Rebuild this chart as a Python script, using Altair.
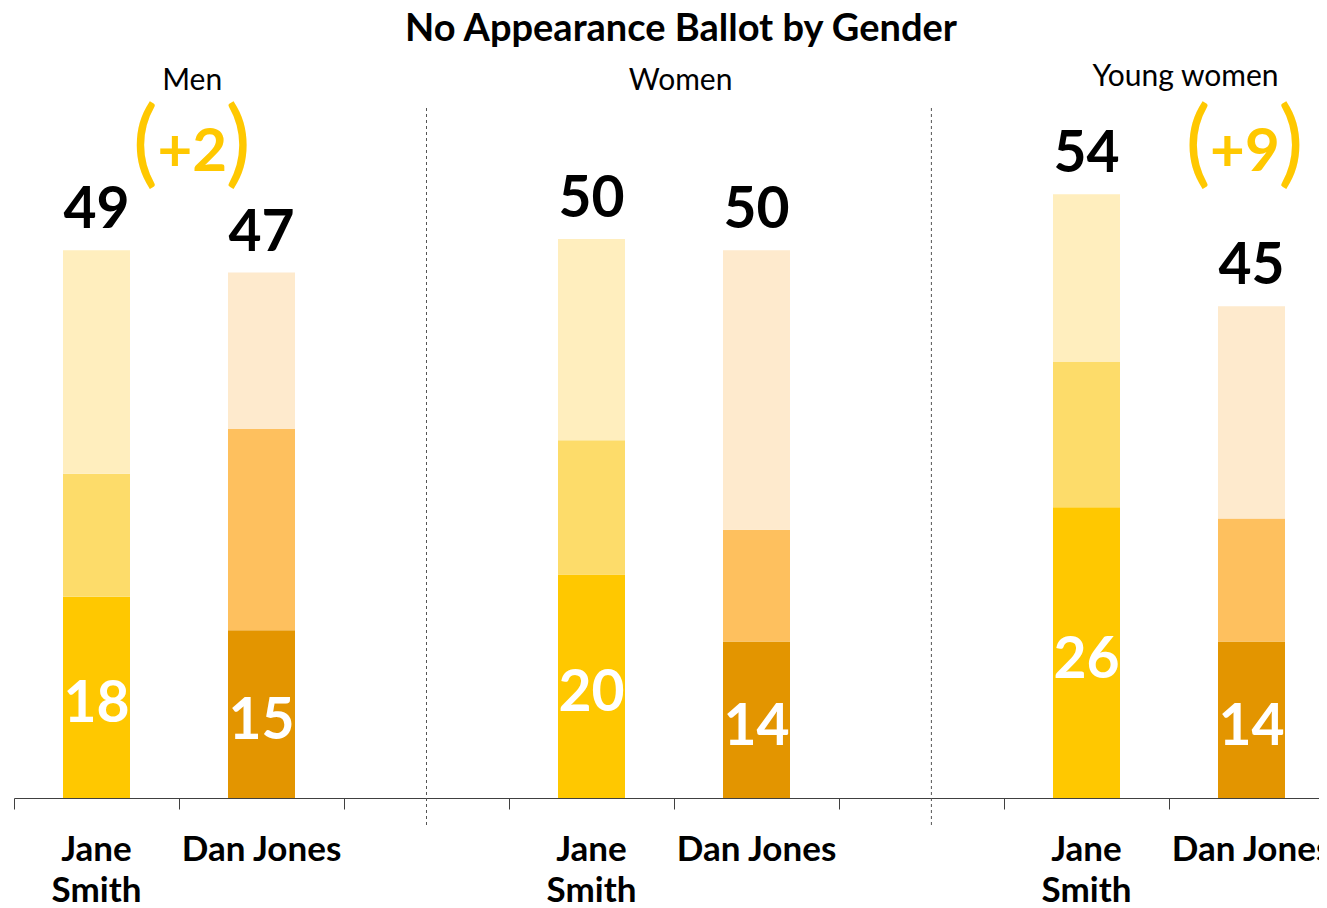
import altair as alt
import pandas as pd

title_text = "No Appearance Ballot by Gender"
groups = ["Men", "Women", "Young women"]
candidates = ["Jane Smith", "Dan Jones"]
cand_labels = ["Jane\nSmith", "Dan Jones"]
# bar order: Men/Jane, Men/Dan, Women/Jane, Women/Dan, Young women/Jane, Young women/Dan
seg_bottom = [18, 15, 20, 14, 26, 14]
seg_middle = [11, 18, 12, 10, 13, 11]
seg_top = [20, 14, 18, 25, 15, 19]
totals = [49, 47, 50, 50, 54, 45]
lead_text = ["+2", "+9"]
lead_pos = [1.08, 7.46]
divider_pos = [2.5, 5.56]
group_label_pos = [1.08, 4.04, 7.1]
group_label_dy = [0, 0, -4]
colors_jane = ["#FFC800", "#FDDC6A", "#FFEEBE"]
colors_dan = ["#E39500", "#FEC05E", "#FEEACD"]

FONT = "Lato"
H = 790
W = 1305
STEP = 165.0
YMAX = 70.67

seg_rows, bar_rows = [], []
for i in range(6):
    g, c = divmod(i, 2)
    xc = g * 3 + c + 0.5
    cols = colors_jane if c == 0 else colors_dan
    segs = [seg_bottom[i], seg_middle[i], seg_top[i]]
    base = 0
    for k, v in enumerate(segs):
        seg_rows.append({"x": xc, "y0": base, "y1": base + v, "color": cols[k],
                         "group": groups[g], "cand": candidates[c]})
        base += v
    bar_rows.append({"x": xc, "total": totals[i], "top": base,
                     "bottom": seg_bottom[i], "mid": seg_bottom[i] / 2,
                     "label": cand_labels[c]})
seg_df = pd.DataFrame(seg_rows)
bar_df = pd.DataFrame(bar_rows)
div_df = pd.DataFrame({"x": divider_pos})
grp_df = pd.DataFrame({"x": group_label_pos, "name": groups,
                       "py": [73 + d for d in group_label_dy]})
lead_df = pd.DataFrame({"x": lead_pos, "t": lead_text})

xscale = alt.Scale(domain=[0, W / STEP], nice=False, zero=False, padding=0)
yscale = alt.Scale(domain=[0, YMAX], nice=False, padding=0)

xaxis = alt.Axis(values=list(range(9)), labels=False, ticks=True, tickSize=11,
                 tickColor="#404040", domainColor="#404040", grid=False,
                 title=None, domainWidth=1, tickWidth=1)


def X():
    return alt.X("x:Q", scale=xscale, axis=xaxis)


def Y(field):
    return alt.Y(field, scale=yscale, axis=None)


bars = alt.Chart(seg_df).mark_bar(width=67).encode(
    x=X(), y=Y("y0:Q"), y2="y1:Q",
    color=alt.Color("color:N", scale=None),
)

dividers = alt.Chart(div_df).mark_rule(
    color="#555555", strokeDash=[3, 3], strokeWidth=1
).encode(x=X(), y=alt.value(100), y2=alt.value(820))

total_txt = alt.Chart(bar_df).mark_text(
    font=FONT, fontWeight="bold", fontSize=57, color="black",
    baseline="alphabetic", dy=-22
).encode(x=X(), y=Y("top:Q"), text="total:Q")

bottom_txt = alt.Chart(bar_df).mark_text(
    font=FONT, fontWeight="bold", fontSize=57, color="white",
    baseline="middle", dy=8
).encode(x=X(), y=Y("mid:Q"), text="bottom:Q")

cand_txt = alt.Chart(bar_df).mark_text(
    font=FONT, fontWeight="bold", fontSize=35, color="black",
    baseline="alphabetic", lineBreak="\n", lineHeight=41
).encode(x=X(), y=alt.value(853), text="label:N")

grp_txt = alt.Chart(grp_df).mark_text(
    font=FONT, fontSize=30, color="black", baseline="middle"
).encode(x=X(), y=alt.Y("py:Q", scale=None, axis=None), text="name:N")

lead_txt = alt.Chart(lead_df).mark_text(
    font=FONT, fontWeight="bold", fontSize=60, color="#FFC800", baseline="middle"
).encode(x=X(), y=alt.value(145), text="t:N")

lparen = alt.Chart(lead_df).mark_text(
    font=FONT, fontSize=95, color="#FFC800", baseline="middle", dx=-47, text="("
).encode(x=X(), y=alt.value(138))

rparen = alt.Chart(lead_df).mark_text(
    font=FONT, fontSize=95, color="#FFC800", baseline="middle", dx=46, text=")"
).encode(x=X(), y=alt.value(138))

title_txt = alt.Chart(pd.DataFrame({"t": [title_text]})).mark_text(
    font=FONT, fontWeight="bold", fontSize=38, color="black", baseline="middle"
).encode(x=alt.value(667), y=alt.value(22), text="t:N")

chart = alt.layer(
    bars, dividers, total_txt, bottom_txt, cand_txt, grp_txt,
    lead_txt, lparen, rparen, title_txt
).properties(
    width=W, height=H,
    background="white",
    autosize=alt.AutoSizeParams(type="none"),
    padding={"left": 6, "top": 0, "right": 0, "bottom": 110},
).configure_view(stroke=None)

chart.save("out.html", embed_options={"renderer": "svg", "actions": False})
